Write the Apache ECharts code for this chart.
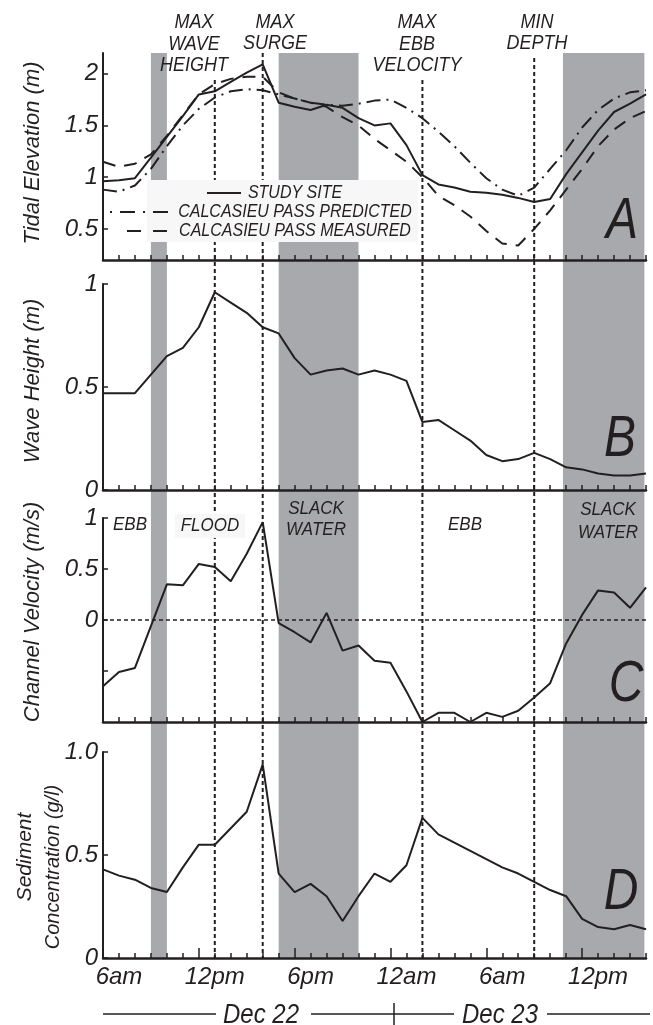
<!DOCTYPE html>
<html>
<head>
<meta charset="utf-8">
<script src="https://cdn.jsdelivr.net/npm/echarts@6.0.0/dist/echarts.min.js"></script>
<style>
    html, body { margin: 0; padding: 0; background: #fff; }
    #chart { width: 653px; height: 1025px; }
</style>
</head>
<body>
<div id="chart"></div>
<script>
    // time axis: hours since midnight Dec 22 (5 = 5am Dec 22 ... 39 = 3pm Dec 23)
    var hours = [5, 6, 7, 8, 9, 10, 11, 12, 13, 14, 15, 16, 17, 18, 19, 20, 21, 22, 23, 24,
                 25, 26, 27, 28, 29, 30, 31, 32, 33, 34, 35, 36, 37, 38, 39];
    var xLabelHours = [6, 12, 18, 24, 30, 36];
    var xLabelText = ['6am', '12pm', '6pm', '12am', '6am', '12pm'];
    var longTickHours = [11, 17, 23, 29, 35];

    // A - tidal elevation (m)
    var studySite = [0.96, 0.97, 0.99, 1.19, 1.39, 1.59, 1.80, 1.83, 1.92, 2.01, 2.09, 1.72, 1.68, 1.65, 1.70, 1.67, 1.57, 1.50, 1.52, 1.31,
                     1.02, 0.93, 0.90, 0.86, 0.85, 0.83, 0.80, 0.76, 0.79, 1.03, 1.24, 1.45, 1.63, 1.71, 1.80];
    var passPredicted = [0.88, 0.86, 0.92, 1.08, 1.30, 1.50, 1.66, 1.77, 1.83, 1.85, 1.84, 1.80, 1.76, 1.72, 1.70, 1.69, 1.71, 1.74, 1.75, 1.67,
                         1.57, 1.44, 1.30, 1.14, 0.99, 0.88, 0.82, 0.90, 1.08, 1.26, 1.48, 1.65, 1.76, 1.82, 1.84];
    var passMeasured = [1.15, 1.10, 1.13, 1.22, 1.40, 1.60, 1.80, 1.90, 1.95, 1.97, 1.97, 1.82, 1.76, 1.72, 1.68, 1.58, 1.50, 1.37, 1.26, 1.15,
                        1.00, 0.82, 0.73, 0.62, 0.48, 0.36, 0.34, 0.50, 0.68, 0.88, 1.08, 1.30, 1.46, 1.57, 1.64];
    // B - wave height (m)
    var waveHeight = [0.47, 0.47, 0.47, 0.56, 0.65, 0.69, 0.79, 0.96, 0.91, 0.86, 0.79, 0.76, 0.64, 0.56, 0.58, 0.59, 0.56, 0.58, 0.56, 0.53,
                      0.33, 0.34, 0.29, 0.24, 0.17, 0.14, 0.15, 0.18, 0.15, 0.11, 0.10, 0.08, 0.07, 0.07, 0.08];
    // C - channel velocity (m/s)
    var velocity = [-0.65, -0.51, -0.47, -0.06, 0.35, 0.34, 0.55, 0.52, 0.38, 0.65, 0.96, -0.03, -0.12, -0.22, 0.07, -0.30, -0.25, -0.40, -0.42, -0.70,
                    -1.00, -0.91, -0.91, -1.00, -0.91, -0.95, -0.89, -0.76, -0.62, -0.23, 0.05, 0.29, 0.27, 0.12, 0.32];
    // D - sediment concentration (g/l)
    var sediment = [0.43, 0.40, 0.38, 0.34, 0.32, 0.44, 0.55, 0.55, 0.63, 0.71, 0.94, 0.41, 0.32, 0.36, 0.30, 0.18, 0.30, 0.41, 0.37, 0.45,
                    0.68, 0.60, 0.56, 0.52, 0.48, 0.44, 0.41, 0.37, 0.33, 0.30, 0.19, 0.15, 0.14, 0.16, 0.14];

    var yTicksA = [0.5, 1, 1.5, 2];
    var yTicksB = [0, 0.5, 1];
    var yTicksC = [-0.5, 0, 0.5, 1];
    var yLabelsC = [0, 0.5, 1];
    var yTicksD = [0, 0.5, 1];

    // shaded (slack) periods and event lines, in hours
    var bandStart = [8, 16, 33.8];
    var bandEnd = [9, 21, 38.9];
    var eventHours = [12, 15, 25, 32];

    var ink = '#231f20';
    var shade = '#a7a9ac';
    var FONT = '"Liberation Sans", Arial, sans-serif';

    function pairs(vals) {
        return hours.map(function (h, i) { return [h, vals[i]]; });
    }

    var grids = [
        {left: 103, width: 543, top: 53, height: 207},
        {left: 103, width: 543, top: 284, height: 206},
        {left: 103, width: 543, top: 518, height: 204},
        {left: 103, width: 543, top: 752, height: 206},
        {left: 103, width: 543, top: 752, height: 206}   // overlay for long ticks
    ];

    function xAxisFor(i) {
        return {
            type: 'value', gridIndex: i, min: 5, max: 39, z: 5,
            axisLine: {show: true, onZero: false, lineStyle: {color: ink, width: 2.5}},
            axisTick: {show: true, inside: true, length: 5, customValues: hours, lineStyle: {color: ink, width: 1.5}},
            axisLabel: i === 3 ? {
                show: true, customValues: xLabelHours, margin: 7,
                color: ink, fontSize: 24, fontStyle: 'italic', fontFamily: FONT,
                formatter: function (v) { return xLabelText[xLabelHours.indexOf(v)]; }
            } : {show: false},
            splitLine: {show: false}
        };
    }

    function yAxisFor(i, min, max, ticks, labels, fmt) {
        return {
            type: 'value', gridIndex: i, min: min, max: max, z: 5,
            axisLine: {show: true, onZero: false, lineStyle: {color: ink, width: 2}},
            axisTick: {show: true, inside: true, length: 5, customValues: ticks, lineStyle: {color: ink, width: 1.5}},
            axisLabel: {
                show: true, customValues: labels, margin: 5,
                color: ink, fontSize: 24, fontStyle: 'italic', fontFamily: FONT,
                formatter: fmt || function (v) { return String(v); }
            },
            splitLine: {show: false}
        };
    }

    var xAxes = [xAxisFor(0), xAxisFor(1), xAxisFor(2), xAxisFor(3)];
    xAxes.push({
        type: 'value', gridIndex: 4, min: 5, max: 39, z: 5,
        axisLine: {show: false},
        axisTick: {show: true, inside: true, length: 10, customValues: longTickHours, lineStyle: {color: ink, width: 1.5}},
        axisLabel: {show: false},
        splitLine: {show: false}
    });

    var yAxes = [
        yAxisFor(0, 0.2, 2.2, yTicksA, yTicksA),
        yAxisFor(1, 0, 1, yTicksB, yTicksB),
        yAxisFor(2, -1, 1, yTicksC, yLabelsC),
        yAxisFor(3, 0, 1, yTicksD, yTicksD, function (v) { return v === 1 ? '1.0' : String(v); }),
        {type: 'value', gridIndex: 4, min: 0, max: 1, show: false}
    ];

    var chart = echarts.init(document.getElementById('chart'), null, {renderer: 'canvas'});

    chart.setOption({
        animation: false,
        backgroundColor: '#fff',
        grid: grids,
        xAxis: xAxes,
        yAxis: yAxes,
        series: [
            {name: 'STUDY SITE', type: 'line', xAxisIndex: 0, yAxisIndex: 0, data: pairs(studySite),
                symbol: 'none', z: 6, lineStyle: {color: ink, width: 2}},
            {name: 'CALCASIEU PASS PREDICTED', type: 'line', xAxisIndex: 0, yAxisIndex: 0, data: pairs(passPredicted),
                symbol: 'none', z: 6, lineStyle: {color: ink, width: 2, type: [14, 6, 2, 6]}},
            {name: 'CALCASIEU PASS MEASURED', type: 'line', xAxisIndex: 0, yAxisIndex: 0, data: pairs(passMeasured),
                symbol: 'none', z: 6, lineStyle: {color: ink, width: 2, type: [13, 9]}},
            {name: 'wave', type: 'line', xAxisIndex: 1, yAxisIndex: 1, data: pairs(waveHeight),
                symbol: 'none', z: 6, lineStyle: {color: ink, width: 2}},
            {name: 'velocity', type: 'line', xAxisIndex: 2, yAxisIndex: 2, data: pairs(velocity),
                symbol: 'none', z: 6, lineStyle: {color: ink, width: 2},
                markLine: {
                    silent: true, symbol: 'none', label: {show: false},
                    lineStyle: {color: ink, width: 1.5, type: [4, 3]},
                    data: [{yAxis: 0}]
                }},
            {name: 'sediment', type: 'line', xAxisIndex: 3, yAxisIndex: 3, data: pairs(sediment),
                symbol: 'none', z: 6, lineStyle: {color: ink, width: 2}}
        ]
    });

    // ---- annotations (bands, event lines, labels, legend) ----
    var px = function (t) { return chart.convertToPixel({xAxisIndex: 0}, t); };
    var TOP = 53, BOTTOM = 958;
    var eventTops = [80, 53, 80, 58];

    // the original figure is slightly stretched vertically, so horizontal texts get scaleY
    function txt(str, x, y, size, opts) {
        opts = opts || {};
        return {
            type: 'text', z: opts.z || 12, x: x, y: y, rotation: opts.rotation || 0,
            scaleY: opts.rotation ? 1 : (opts.sy || 1.12),
            style: {
                text: str, fill: ink,
                font: 'italic ' + size + 'px ' + FONT,
                textAlign: 'center', textVerticalAlign: 'middle',
                lineHeight: opts.lineHeight
            }
        };
    }

    var g = [];
    bandStart.forEach(function (s, i) {
        var x0 = px(s), x1 = px(bandEnd[i]);
        g.push({type: 'rect', z: 1, shape: {x: x0, y: TOP, width: x1 - x0, height: BOTTOM - TOP},
            style: {fill: shade}});
    });
    eventHours.forEach(function (h, i) {
        var x = px(h);
        g.push({type: 'line', z: 2, shape: {x1: x, y1: eventTops[i], x2: x, y2: BOTTOM},
            style: {stroke: ink, lineWidth: 2, lineDash: [4, 3]}});
    });

    // event titles
    g.push(txt('MAX\nWAVE\nHEIGHT', 194, 44, 18, {lineHeight: 19}));
    g.push(txt('MAX\nSURGE', 275, 33, 18, {lineHeight: 19}));
    g.push(txt('MAX\nEBB\nVELOCITY', 417, 44, 18, {lineHeight: 19}));
    g.push(txt('MIN\nDEPTH', 537, 33, 18, {lineHeight: 19}));

    // legend of panel A
    g.push({type: 'rect', z: 10, shape: {x: 147, y: 180, width: 271, height: 62}, style: {fill: '#f7f7f7'}});
    g.push({type: 'line', z: 11, shape: {x1: 207, y1: 193, x2: 241, y2: 193}, style: {stroke: ink, lineWidth: 2}});
    g.push({type: 'line', z: 11, shape: {x1: 110, y1: 212, x2: 176, y2: 212},
        style: {stroke: ink, lineWidth: 2, lineDash: [2, 8, 15, 8]}});
    g.push({type: 'line', z: 11, shape: {x1: 127, y1: 231, x2: 172, y2: 231},
        style: {stroke: ink, lineWidth: 2, lineDash: [14, 12]}});
    g.push(txt('STUDY SITE', 295, 193, 16));
    g.push(txt('CALCASIEU PASS PREDICTED', 295, 212, 16));
    g.push(txt('CALCASIEU PASS MEASURED', 295, 231, 16));

    // panel letters
    g.push(txt('A', 622, 222, 48, {sy: 1.18}));
    g.push(txt('B', 620, 440, 48, {sy: 1.18}));
    g.push(txt('C', 626, 685, 48, {sy: 1.18}));
    g.push(txt('D', 621, 893, 48, {sy: 1.18}));

    // flow phases in panel C
    g.push(txt('EBB', 130, 525, 17));
    g.push({type: 'rect', z: 10, shape: {x: 175, y: 514, width: 70, height: 24}, style: {fill: '#f7f7f7'}});
    g.push(txt('FLOOD', 210, 526, 17));
    g.push(txt('SLACK\nWATER', 316, 519, 17, {lineHeight: 19}));
    g.push(txt('EBB', 465, 525, 17));
    g.push(txt('SLACK\nWATER', 608, 521, 17, {lineHeight: 20}));

    // y axis titles
    g.push(txt('Tidal Elevation (m)', 33, 153, 22, {rotation: Math.PI / 2}));
    g.push(txt('Wave Height (m)', 33, 381, 22, {rotation: Math.PI / 2}));
    g.push(txt('Channel Velocity (m/s)', 33, 612, 22, {rotation: Math.PI / 2}));
    g.push(txt('Sediment', 25, 857, 21, {rotation: Math.PI / 2}));
    g.push(txt('Concentration (g/l)', 53, 867, 20, {rotation: Math.PI / 2}));

    // date row
    var DY = 1014;
    [[103, 216], [311, 454], [547, 650]].forEach(function (s) {
        g.push({type: 'line', z: 11, shape: {x1: s[0], y1: DY, x2: s[1], y2: DY}, style: {stroke: ink, lineWidth: 1.5}});
    });
    g.push({type: 'line', z: 11, shape: {x1: 394, y1: 1003, x2: 394, y2: 1025}, style: {stroke: ink, lineWidth: 1.5}});
    g.push(txt('Dec 22', 261, DY + 2, 24));
    g.push(txt('Dec 23', 500, DY + 2, 24));

    chart.setOption({graphic: g});
</script>
</body>
</html>
